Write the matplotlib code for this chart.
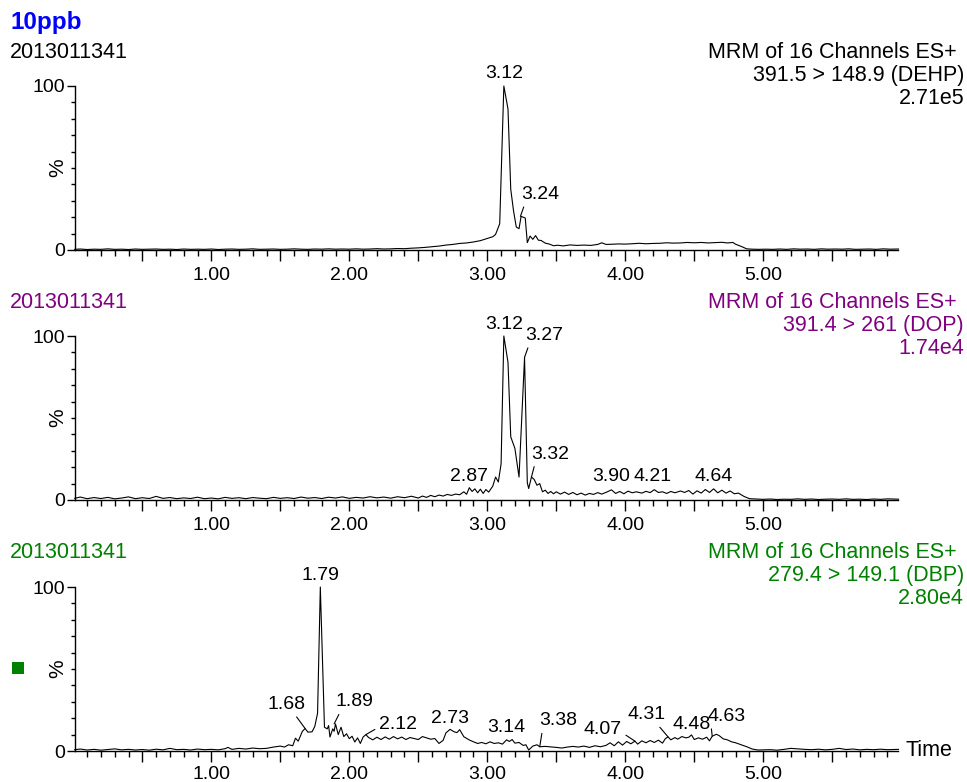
"""Three stacked MRM chromatograms (DEHP, DOP, DBP) in the MassLynx style."""
import matplotlib
matplotlib.use("Agg")
import matplotlib.pyplot as plt
import numpy as np
from matplotlib.patches import Rectangle
from matplotlib.ticker import FixedLocator, FuncFormatter, MultipleLocator

plt.rcParams["font.family"] = ["Liberation Sans", "DejaVu Sans"]

# ---- data: (time in min, relative intensity %) ----
DEHP_TRACE = [
    (0.01, 0.4), (0.05, 0.6), (0.10, 0.3), (0.15, 0.5), (0.20, 0.4), (0.25, 0.7),
    (0.30, 0.4), (0.35, 0.5), (0.40, 0.3), (0.45, 0.6), (0.50, 0.4), (0.55, 0.5),
    (0.60, 0.6), (0.65, 0.4), (0.70, 0.5), (0.75, 0.3), (0.80, 0.6), (0.85, 0.4),
    (0.90, 0.5), (0.95, 0.4), (1.00, 0.6), (1.05, 0.3), (1.10, 0.5), (1.15, 0.6),
    (1.20, 0.4), (1.25, 0.5), (1.30, 0.7), (1.35, 0.4), (1.40, 0.5), (1.45, 0.6),
    (1.50, 0.4), (1.55, 0.5), (1.60, 0.7), (1.65, 0.5), (1.70, 0.4), (1.75, 0.6),
    (1.80, 0.5), (1.85, 0.7), (1.90, 0.5), (1.95, 0.6), (2.00, 0.5), (2.05, 0.7),
    (2.10, 0.5), (2.15, 0.6), (2.20, 0.8), (2.25, 0.6), (2.30, 0.7), (2.35, 0.9),
    (2.40, 0.8), (2.45, 1.1), (2.50, 1.3), (2.55, 1.6), (2.60, 2.0), (2.65, 2.4),
    (2.70, 3.0), (2.75, 3.4), (2.80, 4.0), (2.85, 4.3), (2.90, 4.9), (2.95, 5.7),
    (3.00, 7.0), (3.04, 8.1), (3.06, 9.5), (3.09, 16.0), (3.12, 100.0), (3.15, 86.0),
    (3.17, 37.0), (3.19, 24.0), (3.21, 14.0), (3.23, 13.0), (3.245, 20.5), (3.275, 19.5),
    (3.29, 4.5), (3.31, 8.5), (3.33, 6.5), (3.35, 8.8), (3.37, 6.0), (3.39, 5.8),
    (3.42, 4.2), (3.45, 3.6), (3.48, 2.6), (3.51, 2.9), (3.55, 2.5), (3.60, 3.1),
    (3.65, 2.8), (3.70, 3.0), (3.75, 2.8), (3.80, 3.4), (3.83, 4.4), (3.86, 3.4),
    (3.90, 3.5), (3.95, 3.7), (4.00, 3.6), (4.05, 3.8), (4.10, 4.1), (4.15, 3.8),
    (4.20, 4.0), (4.25, 4.1), (4.30, 4.4), (4.35, 4.2), (4.40, 4.3), (4.45, 4.6),
    (4.50, 4.4), (4.55, 4.6), (4.60, 4.3), (4.65, 4.5), (4.70, 4.7), (4.74, 4.3),
    (4.78, 4.6), (4.80, 3.5), (4.84, 2.2), (4.88, 0.7), (4.92, 0.5), (4.97, 0.4),
    (5.02, 0.5), (5.07, 0.4), (5.12, 0.6), (5.17, 0.4), (5.22, 0.7), (5.27, 0.5),
    (5.32, 0.6), (5.37, 0.4), (5.42, 0.7), (5.47, 0.5), (5.52, 0.6), (5.57, 0.5),
    (5.62, 0.7), (5.67, 0.4), (5.72, 0.5), (5.77, 0.6), (5.82, 0.4), (5.87, 0.7),
    (5.92, 0.5), (5.98, 0.6),
]

DOP_TRACE = [
    (0.01, 1.0), (0.05, 1.8), (0.10, 0.8), (0.15, 1.5), (0.20, 0.9), (0.25, 1.6),
    (0.30, 0.7), (0.35, 1.2), (0.40, 1.9), (0.45, 0.8), (0.50, 1.4), (0.55, 0.9),
    (0.60, 2.2), (0.65, 1.0), (0.70, 1.5), (0.75, 0.8), (0.80, 1.3), (0.85, 0.9),
    (0.90, 1.7), (0.95, 0.8), (1.00, 1.2), (1.05, 0.7), (1.10, 1.6), (1.15, 1.0),
    (1.20, 1.4), (1.25, 0.8), (1.30, 1.5), (1.35, 1.1), (1.40, 0.8), (1.45, 1.6),
    (1.50, 1.0), (1.55, 1.4), (1.60, 0.9), (1.65, 1.8), (1.70, 1.1), (1.75, 1.5),
    (1.80, 0.9), (1.85, 1.7), (1.90, 1.2), (1.95, 1.9), (2.00, 1.0), (2.05, 1.6),
    (2.10, 1.2), (2.15, 2.0), (2.20, 1.3), (2.25, 1.8), (2.30, 1.1), (2.35, 2.0),
    (2.40, 1.4), (2.45, 2.3), (2.50, 1.2), (2.53, 2.4), (2.56, 1.6), (2.59, 2.8),
    (2.62, 2.0), (2.65, 3.0), (2.68, 2.4), (2.71, 3.4), (2.74, 2.8), (2.77, 3.6),
    (2.80, 3.2), (2.83, 5.0), (2.85, 3.5), (2.87, 7.5), (2.89, 5.2), (2.91, 6.8),
    (2.93, 4.4), (2.95, 6.6), (2.97, 4.0), (2.99, 6.4), (3.01, 4.8), (3.04, 8.5),
    (3.06, 14.0), (3.08, 11.0), (3.10, 22.0), (3.12, 100.0), (3.15, 84.0), (3.17, 38.5),
    (3.20, 31.5), (3.23, 14.0), (3.27, 87.0), (3.29, 10.5), (3.30, 7.0), (3.32, 14.0),
    (3.34, 12.5), (3.36, 9.0), (3.38, 10.0), (3.40, 5.0), (3.42, 6.0), (3.44, 4.0),
    (3.46, 5.2), (3.48, 3.8), (3.50, 5.0), (3.53, 3.6), (3.56, 4.8), (3.59, 3.4),
    (3.62, 4.6), (3.65, 3.2), (3.68, 4.2), (3.71, 3.0), (3.74, 4.0), (3.77, 3.4),
    (3.80, 4.5), (3.83, 3.6), (3.87, 5.0), (3.90, 6.2), (3.93, 4.0), (3.96, 5.2),
    (3.99, 3.8), (4.02, 5.4), (4.05, 4.4), (4.08, 5.0), (4.12, 4.2), (4.15, 5.3),
    (4.18, 4.5), (4.21, 6.3), (4.24, 4.6), (4.27, 5.0), (4.30, 4.0), (4.33, 5.2),
    (4.36, 4.4), (4.40, 5.5), (4.43, 4.6), (4.46, 5.8), (4.49, 3.6), (4.52, 5.6),
    (4.55, 4.2), (4.58, 6.4), (4.61, 4.6), (4.64, 6.8), (4.67, 4.4), (4.70, 6.0),
    (4.73, 4.2), (4.76, 5.5), (4.79, 3.8), (4.82, 4.2), (4.86, 2.2), (4.90, 0.8),
    (4.95, 0.6), (5.00, 0.4), (5.05, 0.6), (5.10, 0.3), (5.15, 0.5), (5.20, 0.4),
    (5.25, 0.7), (5.30, 0.4), (5.35, 0.6), (5.40, 0.3), (5.45, 0.5), (5.50, 0.6),
    (5.55, 0.4), (5.60, 0.7), (5.65, 0.4), (5.70, 0.5), (5.75, 0.3), (5.80, 0.6),
    (5.85, 0.4), (5.90, 0.7), (5.98, 0.5),
]

DBP_TRACE = [
    (0.01, 0.8), (0.05, 1.2), (0.10, 0.6), (0.15, 1.0), (0.20, 0.5), (0.25, 0.9),
    (0.30, 1.3), (0.35, 0.7), (0.40, 1.0), (0.45, 0.6), (0.50, 0.9), (0.55, 0.5),
    (0.60, 1.1), (0.65, 0.7), (0.70, 1.6), (0.75, 0.8), (0.80, 1.0), (0.85, 0.6),
    (0.90, 1.2), (0.95, 0.8), (1.00, 1.0), (1.05, 0.7), (1.10, 1.4), (1.12, 2.2),
    (1.15, 1.0), (1.20, 1.6), (1.25, 1.2), (1.30, 1.8), (1.35, 1.4), (1.40, 1.6),
    (1.45, 2.4), (1.50, 3.0), (1.53, 2.4), (1.56, 3.8), (1.59, 3.2), (1.61, 7.8),
    (1.63, 6.0), (1.66, 12.0), (1.68, 13.7), (1.70, 11.5), (1.73, 11.7), (1.75, 15.0),
    (1.77, 23.0), (1.79, 100.0), (1.81, 42.0), (1.82, 14.5), (1.84, 13.5), (1.85, 15.5),
    (1.86, 8.5), (1.88, 13.5), (1.89, 12.0), (1.90, 16.5), (1.92, 10.0), (1.94, 14.5),
    (1.96, 8.8), (1.98, 10.5), (2.00, 7.5), (2.02, 9.0), (2.04, 5.5), (2.06, 8.0),
    (2.08, 4.6), (2.10, 8.5), (2.12, 10.0), (2.14, 8.2), (2.17, 6.8), (2.20, 8.4),
    (2.23, 7.0), (2.26, 8.6), (2.29, 7.2), (2.32, 8.8), (2.35, 7.4), (2.38, 8.5),
    (2.41, 7.0), (2.44, 8.2), (2.47, 7.6), (2.50, 7.0), (2.53, 8.8), (2.56, 8.0),
    (2.59, 7.2), (2.62, 7.6), (2.65, 4.6), (2.68, 6.5), (2.70, 11.0), (2.73, 13.2),
    (2.76, 11.7), (2.78, 11.2), (2.80, 13.0), (2.83, 8.7), (2.87, 6.7), (2.90, 5.6),
    (2.93, 4.6), (2.96, 5.2), (2.99, 4.4), (3.02, 5.6), (3.05, 4.6), (3.08, 5.0),
    (3.11, 4.2), (3.14, 6.8), (3.16, 5.8), (3.18, 7.0), (3.20, 4.8), (3.23, 5.2),
    (3.26, 3.4), (3.28, 3.8), (3.30, 0.6), (3.33, 3.0), (3.36, 3.8), (3.38, 2.6),
    (3.42, 2.8), (3.46, 2.5), (3.50, 2.2), (3.54, 1.8), (3.58, 2.4), (3.62, 2.8),
    (3.66, 2.4), (3.70, 3.0), (3.74, 2.2), (3.78, 3.2), (3.82, 2.6), (3.86, 3.4),
    (3.89, 5.0), (3.92, 3.2), (3.95, 5.6), (3.98, 3.6), (4.01, 5.8), (4.04, 4.4),
    (4.07, 6.0), (4.09, 4.2), (4.12, 6.2), (4.15, 5.0), (4.18, 6.4), (4.21, 5.2),
    (4.24, 6.6), (4.27, 4.8), (4.29, 7.5), (4.31, 8.6), (4.33, 6.8), (4.36, 8.2),
    (4.38, 7.2), (4.41, 8.8), (4.44, 8.0), (4.46, 8.4), (4.48, 9.8), (4.50, 7.0),
    (4.53, 8.0), (4.56, 7.2), (4.59, 8.4), (4.61, 6.2), (4.63, 9.0), (4.66, 10.2),
    (4.68, 9.4), (4.71, 7.4), (4.74, 6.8), (4.77, 5.6), (4.80, 5.0), (4.84, 3.8),
    (4.88, 2.6), (4.92, 1.2), (4.96, 0.6), (5.00, 0.7), (5.05, 0.8), (5.10, 0.5),
    (5.15, 1.0), (5.20, 1.6), (5.25, 1.3), (5.30, 1.0), (5.35, 0.8), (5.40, 1.1),
    (5.45, 0.7), (5.50, 1.0), (5.55, 1.6), (5.60, 0.9), (5.65, 1.2), (5.70, 0.7),
    (5.75, 1.0), (5.80, 0.8), (5.85, 1.1), (5.90, 0.8), (5.98, 1.0),
]

DEHP_PEAKS = ["3.12", "3.24"]
DOP_PEAKS = ["2.87", "3.12", "3.27", "3.32", "3.90", "4.21", "4.64"]
DBP_PEAKS = ["1.68", "1.79", "1.89", "2.12", "2.73", "3.14", "3.38", "4.07", "4.31", "4.48", "4.63"]

SAMPLE = "10ppb"
FILE_ID = "2013011341"
FUNCTION = "MRM of 16 Channels ES+"
TRANSITIONS = ["391.5 > 148.9 (DEHP)", "391.4 > 261 (DOP)", "279.4 > 149.1 (DBP)"]
INTENSITIES = ["2.71e5", "1.74e4", "2.80e4"]

# ---- layout (pixels of a 967 x 782 canvas) ----
W, H = 967, 782
COLORS = ["black", "#800080", "#008000"]
X_LEFT, X_RIGHT = 74.7, 898.5
PANEL_ZERO = [250, 500, 751]   # pixel row of 0 %
PANEL_H = 164

# label offsets from the peak apex in pixels (dx, dy) and leader attach point
OFFSETS = [
    {"3.12": (0, 13, None), "3.24": (20, 22, (0.1, 0.0))},
    {"2.87": (0, 11, None), "3.12": (0, 12, None), "3.27": (20, 22, (0.1, 0.0)),
     "3.32": (19, 23, (0.1, 0.0)), "3.90": (0, 13, None), "4.21": (-2, 13, None),
     "4.64": (0, 12, None)},
    {"1.68": (-19, 24, (0.7, 0.0)), "1.79": (0, 11, None), "1.89": (20, 22, (0.15, 0.0)),
     "2.12": (32, 10, (0.0, 0.35)), "2.73": (0, 11, None), "3.14": (0, 12, None),
     "3.38": (18, 26, (0.1, 0.0)), "4.07": (-32, 12, (1.0, 0.3)),
     "4.31": (-21, 22, (0.75, 0.0)), "4.48": (0, 10, None), "4.63": (14, 20, (0.1, 0.0))},
]


def px_text(fig, x, y, s, **kw):
    fig.text(x / W, 1 - y / H, s, va="center", **kw)


def apex(times, vals, t):
    mask = np.abs(times - t) <= 0.012
    if mask.any():
        return vals[mask].max()
    return np.interp(t, times, vals)


def x_fmt(v, _pos):
    if v > 0.5 and abs(v - round(v)) < 1e-6:
        return f"{v:.2f}"
    return ""


fig = plt.figure(figsize=(W / 100, H / 100), dpi=100)

traces = [DEHP_TRACE, DOP_TRACE, DBP_TRACE]
peaks = [DEHP_PEAKS, DOP_PEAKS, DBP_PEAKS]
x0 = 0.01
x1 = 5.98

for i, (trace, labels) in enumerate(zip(traces, peaks)):
    arr = np.array(trace)
    t, v = arr[:, 0], arr[:, 1]
    bottom = 1 - PANEL_ZERO[i] / H
    ax = fig.add_axes([X_LEFT / W, bottom, (X_RIGHT - X_LEFT) / W, PANEL_H / H])
    ax.plot(t, v, color="black", lw=0.8, clip_on=False)
    ax.set_xlim(x0, x1)
    ax.set_ylim(0, 100)
    for side in ("top", "right"):
        ax.spines[side].set_visible(False)
    for side in ("left", "bottom"):
        ax.spines[side].set_linewidth(1.0)

    ax.xaxis.set_major_locator(MultipleLocator(0.5))
    ax.xaxis.set_minor_locator(MultipleLocator(0.1))
    ax.xaxis.set_major_formatter(FuncFormatter(x_fmt))
    ax.yaxis.set_major_locator(FixedLocator([0, 100]))
    ax.yaxis.set_minor_locator(MultipleLocator(10))
    # the bottom panel sits right at the canvas edge, keep its labels inside
    ax.tick_params(axis="x", which="major", length=8, width=1, labelsize=14,
                   pad=4.5 if i < 2 else 3)
    ax.tick_params(axis="x", which="minor", length=4.3, width=1)
    ax.tick_params(axis="y", which="major", length=6, width=1, labelsize=14, pad=1)
    ax.tick_params(axis="y", which="minor", length=3, width=1)
    ax.set_ylabel("%", fontsize=15)
    ax.yaxis.set_label_coords(-0.009, 0.5)

    for lab in labels:
        pt = float(lab)
        py = apex(t, v, pt)
        dx, dy, rel = OFFSETS[i][lab]
        kw = {}
        if rel is not None:
            kw["arrowprops"] = dict(arrowstyle="-", color="black", lw=0.8,
                                    relpos=rel, shrinkA=1, shrinkB=0)
        ax.annotate(lab, xy=(pt, py), xytext=(dx * 0.72, dy * 0.72),
                    textcoords="offset points", ha="center", va="center",
                    fontsize=14, annotation_clip=False, **kw)

    top = PANEL_ZERO[i] - PANEL_H
    head = top - 34
    px_text(fig, 10, head, FILE_ID, fontsize=15.5, color=COLORS[i], ha="left")
    px_text(fig, 957, head, FUNCTION, fontsize=15.5, color=COLORS[i], ha="right")
    px_text(fig, 964, head + 23, TRANSITIONS[i], fontsize=15.5, color=COLORS[i], ha="right")
    px_text(fig, 964, head + 46, INTENSITIES[i], fontsize=15.5, color=COLORS[i], ha="right")

px_text(fig, 10, 22, SAMPLE, fontsize=17.5, fontweight="bold", color="#0000FF", ha="left")
px_text(fig, 905, 750, "Time", fontsize=15.5, ha="left")
fig.add_artist(Rectangle((12 / W, 1 - 674 / H), 12 / W, 12 / H,
                         transform=fig.transFigure, color="#008000", lw=0))

fig.savefig("out.png", dpi=100)
